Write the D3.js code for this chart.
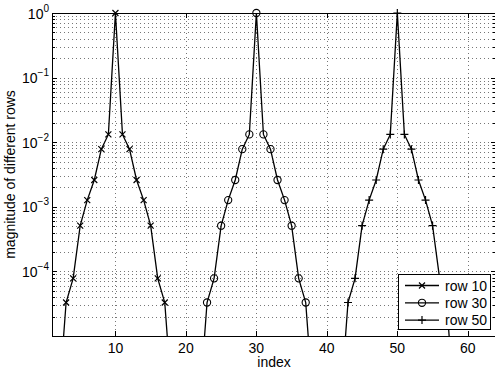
<!DOCTYPE html>
<html><head><meta charset="utf-8">
<script src="https://cdn.jsdelivr.net/npm/d3@7"></script>
<style>body{margin:0;background:#fff}svg{display:block}text{font-family:"Liberation Sans",Arial,sans-serif;fill:#000}</style>
</head><body><svg id="c" width="495" height="372"></svg>
<script>
// data
const row10X = [2,3,4,5,6,7,8,9,10,11,12,13,14,15,16,17,18];
const row10Y = [1.1e-6,3.3e-5,7.8e-5,5.1e-4,1.27e-3,2.6e-3,7.8e-3,1.32e-2,1,1.32e-2,7.8e-3,2.6e-3,1.27e-3,5.1e-4,7.8e-5,3.3e-5,1.1e-6];
const row30X = [22,23,24,25,26,27,28,29,30,31,32,33,34,35,36,37,38];
const row30Y = [1.1e-6,3.3e-5,7.8e-5,5.1e-4,1.27e-3,2.6e-3,7.8e-3,1.32e-2,1,1.32e-2,7.8e-3,2.6e-3,1.27e-3,5.1e-4,7.8e-5,3.3e-5,1.1e-6];
const row50X = [42,43,44,45,46,47,48,49,50,51,52,53,54,55,56,57,58];
const row50Y = [1.1e-6,3.3e-5,7.8e-5,5.1e-4,1.27e-3,2.6e-3,7.8e-3,1.32e-2,1,1.32e-2,7.8e-3,2.6e-3,1.27e-3,5.1e-4,7.8e-5,3.3e-5,1.1e-6];
const seriesNames = ["row 10","row 30","row 50"];
const seriesMarkers = ["x","o","+"];
const xTicks = [10,20,30,40,50,60];
const yExponents = [0,-1,-2,-3,-4];
const xLabel = "index";
const yLabel = "magnitude of different rows";

const svg = d3.select("#c");
const L = 52, R = 496, T = 13, B = 336;
const x = d3.scaleLinear().domain([1,64]).range([L,R]);
const y = d3.scaleLog().domain([1e-5,1]).range([B,T]);

svg.append("defs").append("clipPath").attr("id","clip")
  .append("rect").attr("x",L).attr("y",T).attr("width",R-L).attr("height",B-T);

// grid
const g = svg.append("g");
const minorVals = [];
for (let e=-5;e<0;e++) for (let k=1;k<=9;k++) minorVals.push(k*Math.pow(10,e));
g.selectAll(".hg").data(minorVals.filter(v=>v>1e-5)).enter().append("line")
  .attr("x1",L).attr("x2",R).attr("y1",d=>Math.round(y(d))+0.5).attr("y2",d=>Math.round(y(d))+0.5)
  .attr("stroke","#777").attr("stroke-width",1).attr("stroke-dasharray","1,3");
g.selectAll(".vg").data(xTicks).enter().append("line")
  .attr("x1",d=>Math.round(x(d))+0.5).attr("x2",d=>Math.round(x(d))+0.5).attr("y1",T).attr("y2",B)
  .attr("stroke","#777").attr("stroke-width",1).attr("stroke-dasharray","1,3");

// ticks
const tk = svg.append("g").attr("stroke","#000").attr("stroke-width",1);
minorVals.forEach(v=>{
  const major = Math.abs(Math.log10(v)-Math.round(Math.log10(v)))<1e-9;
  const len = major?5:3; const yy=Math.round(y(v))+0.5;
  tk.append("line").attr("x1",L).attr("x2",L+len).attr("y1",yy).attr("y2",yy);
  tk.append("line").attr("x1",R).attr("x2",R-len).attr("y1",yy).attr("y2",yy);
});
xTicks.forEach(v=>{
  const xx=Math.round(x(v))+0.5;
  tk.append("line").attr("x1",xx).attr("x2",xx).attr("y1",B).attr("y2",B-5);
  tk.append("line").attr("x1",xx).attr("x2",xx).attr("y1",T).attr("y2",T+5);
});

// series
const sets = [[row10X,row10Y],[row30X,row30Y],[row50X,row50Y]];
const line = d3.line().x(d=>x(d[0])).y(d=>y(d[1]));
function marker(sel, type, cx, cy){
  if(type==="x"){
    sel.append("path").attr("d",`M${cx-3},${cy-3}L${cx+3},${cy+3}M${cx-3},${cy+3}L${cx+3},${cy-3}`)
      .attr("stroke","#000").attr("stroke-width",1.2).attr("fill","none");
  } else if(type==="o"){
    sel.append("circle").attr("cx",cx).attr("cy",cy).attr("r",3.6).attr("stroke","#000").attr("stroke-width",1.1).attr("fill","none");
  } else {
    sel.append("path").attr("d",`M${cx-4},${cy}L${cx+4},${cy}M${cx},${cy-4}L${cx},${cy+4}`)
      .attr("stroke","#000").attr("stroke-width",1.2).attr("fill","none");
  }
}
const plot = svg.append("g").attr("clip-path","url(#clip)");
sets.forEach((s,i)=>{
  const pts = s[0].map((v,j)=>[v,s[1][j]]);
  plot.append("path").attr("d",line(pts)).attr("fill","none").attr("stroke","#000").attr("stroke-width",1.3);
});
const mk = svg.append("g");
sets.forEach((s,i)=>{
  s[0].forEach((v,j)=>{
    const val=s[1][j];
    if(val>=1e-5 && val<=1) marker(mk, seriesMarkers[i], x(v), y(val));
  });
});

// box
svg.append("rect").attr("x",L+0.5).attr("y",T+0.5).attr("width",R-L-1).attr("height",B-T).attr("fill","none").attr("stroke","#000").attr("stroke-width",1);

// tick labels
xTicks.forEach(v=>{
  svg.append("text").attr("x",x(v)).attr("y",352.5).attr("text-anchor","middle").attr("font-size",14).text(v);
});
yExponents.forEach(e=>{
  const t = svg.append("text").attr("x",49).attr("y",y(Math.pow(10,e))+5.5).attr("text-anchor","end").attr("font-size",14);
  t.append("tspan").text("10");
  t.append("tspan").attr("dy",-7).attr("font-size",10).text(e===0?"0":"\u2212"+Math.abs(e));
});
svg.append("text").attr("x",x(32.5)).attr("y",367).attr("text-anchor","middle").attr("font-size",14).text(xLabel);
svg.append("text").attr("transform",`translate(15,${(T+B)/2}) rotate(-90)`).attr("text-anchor","middle").attr("font-size",14).text(yLabel);

// legend
const lg = svg.append("g");
lg.append("rect").attr("x",398.5).attr("y",274.5).attr("width",92).attr("height",55).attr("fill","#fff").attr("stroke","#000");
seriesNames.forEach((n,i)=>{
  const yy = 285.5 + i*17.3;
  lg.append("line").attr("x1",405).attr("x2",439).attr("y1",yy).attr("y2",yy).attr("stroke","#000").attr("stroke-width",1.3);
  marker(lg, seriesMarkers[i], 422, yy);
  lg.append("text").attr("x",445).attr("y",yy+5).attr("font-size",14).text(n);
});
</script></body></html>
